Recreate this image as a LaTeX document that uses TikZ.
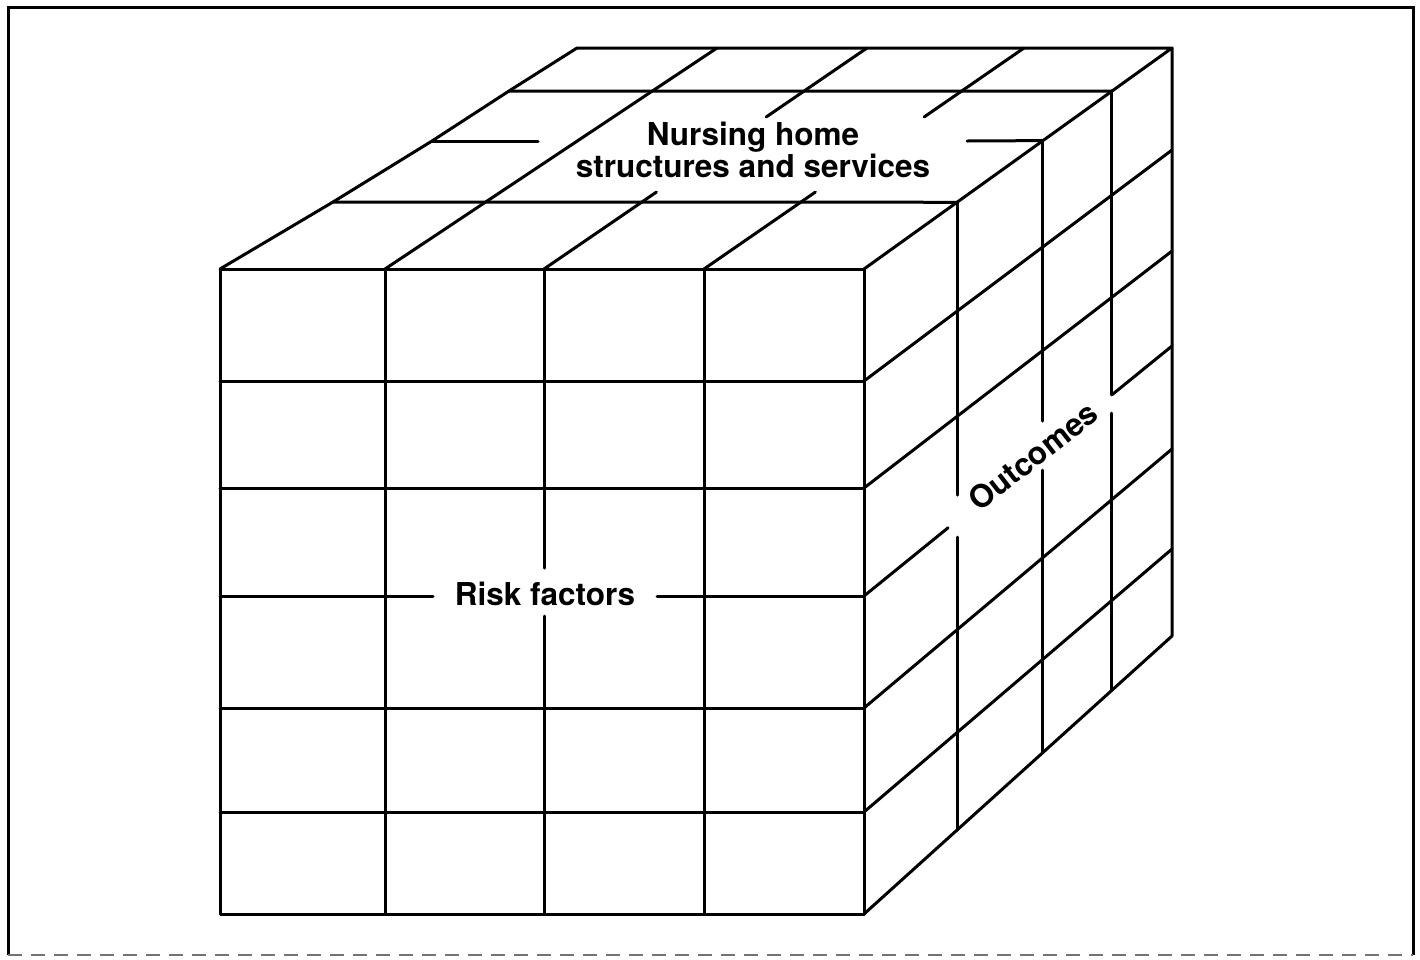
\documentclass[tikz,border=0pt]{standalone}
\usepackage{fontspec}
\setmainfont{TeX Gyre Heros}
\usetikzlibrary{calc}
\tikzset{
  gridline/.style={line width=3pt, line cap=round, line join=round},
  framebox/.style={line width=3pt, line join=miter},
  lbl/.style={font=\fontsize{31.5pt}{34pt}\selectfont\bfseries, inner sep=0pt}
}
\begin{document}
\begin{tikzpicture}[x=1pt,y=-1pt]
\useasboundingbox (0,0) rectangle (1420,959);
% frame
\draw[framebox] (8,955) -- (8,7) -- (1413,7) -- (1413,955);
\draw[line width=2pt, black!55, dash pattern=on 14pt off 9pt] (8,955) -- (1413,955);

% ---------- front face ----------
\coordinate (FTL) at (220,269);
\coordinate (FTR) at (864,269);
\coordinate (FBL) at (220,914);
\coordinate (FBR) at (864,914);
\draw[gridline] (FTL) rectangle (FBR);
\foreach \y in {381,488,708,812} \draw[gridline] (220,\y) -- (864,\y);
\draw[gridline] (220,596) -- (433,596);
\draw[gridline] (657,596) -- (864,596);
\foreach \x in {385,704} \draw[gridline] (\x,269) -- (\x,914);
\draw[gridline] (544,269) -- (544,568);
\draw[gridline] (544,616) -- (544,914);

% ---------- top face ----------
\coordinate (BTL) at (577,48);
\coordinate (BTR) at (1172,48);
\coordinate (L1) at (333,202);
\coordinate (L2) at (432,141);
\coordinate (L3) at (509,91);
\coordinate (R1) at ($(FTR)!0.302!(BTR)$);
\coordinate (R2) at ($(FTR)!0.581!(BTR)$);
\coordinate (R3) at ($(FTR)!0.805!(BTR)$);
\draw[gridline] (FTL) -- (L1) -- (L2) -- (L3) -- (BTL) -- (BTR) -- (FTR);
\draw[gridline] (L1) -- (R1);
\draw[gridline] (L3) -- (R3);
\draw[gridline] (L2) -- (538,141);
\draw[gridline] (967,141) -- (R2);
% diagonals
\coordinate (D1a) at (385,269); \coordinate (D1b) at (717,48);
\coordinate (D2a) at (544,269); \coordinate (D2b) at (867,48);
\coordinate (D3a) at (704,269); \coordinate (D3b) at (1024,48);
\draw[gridline] (D1a) -- (D1b);
\draw[gridline] (D2a) -- ($(D2a)!0.348!(D2b)$);
\draw[gridline] ($(D2a)!0.688!(D2b)$) -- (D2b);
\draw[gridline] (D3a) -- ($(D3a)!0.348!(D3b)$);
\draw[gridline] ($(D3a)!0.688!(D3b)$) -- (D3b);

% ---------- right face ----------
\coordinate (BBR) at (1172,636);
\draw[gridline] (BTR) -- (BBR) -- (FBR);
\coordinate (B1) at ($(FBR)!0.302!(BBR)$);
\coordinate (B2) at ($(FBR)!0.581!(BBR)$);
\coordinate (B3) at ($(FBR)!0.805!(BBR)$);
% rows
\draw[gridline] (864,381) -- (1172,150);
\draw[gridline] (864,488) -- (1172,251);
\draw[gridline] (864,708) -- (1172,449);
\draw[gridline] (864,812) -- (1172,549);
\coordinate (r3a) at (864,596);
\coordinate (r3b) at (1172,346);
\draw[gridline] (r3a) -- ($(r3a)!0.273!(r3b)$);
\draw[gridline] ($(r3a)!0.805!(r3b)$) -- (r3b);
% verticals with gaps
\draw[gridline] (R1) -- (R1 |- 0,495);
\draw[gridline] (R1 |- 0,537) -- (B1);
\draw[gridline] (R2) -- (R2 |- 0,421);
\draw[gridline] (R2 |- 0,470) -- (B2);
\draw[gridline] (R3) -- ($(r3a)!0.805!(r3b)$);
\draw[gridline] (R3 |- 0,413) -- (B3);

% ---------- labels ----------
\node[lbl, anchor=base] (nh1) at (753,145) {Nursing home};
\node[lbl, anchor=base] (nh2) at (753,177) {structures and services};
\node[lbl, anchor=base] (rf) at (545,605) {Risk factors};
\node[lbl, rotate=38] (oc) at (1033,456) {Outcomes};
\end{tikzpicture}
\end{document}
